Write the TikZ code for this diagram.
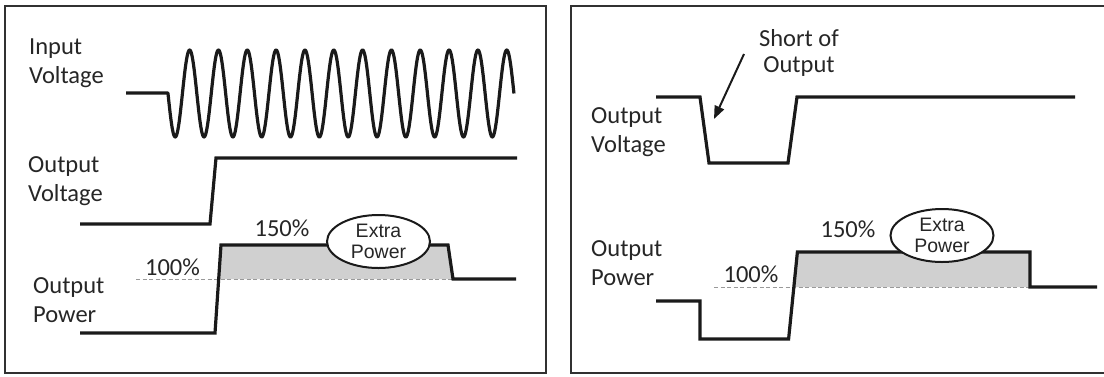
\documentclass[tikz,border=0pt]{standalone}
\usepackage{fontspec}
\setmainfont{Carlito}
\newfontfamily\arialf{Liberation Sans}
\usetikzlibrary{arrows.meta,shapes.geometric}
\definecolor{ink}{HTML}{1A1A1A}
\definecolor{txt}{HTML}{262626}
\definecolor{fillgray}{HTML}{D0D0D0}
\begin{document}
\begin{tikzpicture}[x=1pt,y=-1pt,
  frame/.style={draw=ink!90,line width=2.2pt},
  sig/.style={draw=ink,line width=3.2pt,line join=miter},
  lbl/.style={text=txt,font=\fontsize{24.5}{29}\selectfont,align=left,inner sep=0pt,anchor=base west},
  pct/.style={text=txt,font=\fontsize{24.5}{29}\selectfont,inner sep=0pt,anchor=base},
  ref/.style={draw=gray!80,line width=1pt,dash pattern=on 4pt off 2.5pt},
  bubble/.style={ellipse,draw=ink,line width=2pt,fill=white,inner sep=0pt,
    minimum width=103pt,minimum height=53pt,align=center,text=txt,
    font=\arialf\fontsize{19.5}{20.5}\selectfont},
  callout/.style={draw=ink,line width=2pt,-{Triangle[length=13pt,width=10pt]}}]
\useasboundingbox (0,0) rectangle (1104,376);
% frames
\draw[frame] (5,6) rectangle (546,373);
\draw[frame] (571,6) rectangle (1110,373);

% ---------- left panel ----------
\node[lbl] (inV) at (29,83) {Input\\Voltage};
\node[lbl] (outVL) at (28,201) {Output\\Voltage};
\node[lbl] (outPL) at (33,322) {Output\\Power};

\draw[sig,line join=round] (126,93) -- (168,93) -- plot[domain=0:4320,samples=600,smooth] ({168+\x/360*28.83},{93.5+43.5*sin(\x)});

\draw[sig] (80,224) -- (210,224) -- (216,158) -- (517,158);

\fill[fillgray] (218.7,279) -- (221,245) -- (448,245) -- (453,279) -- cycle;
\draw[ref] (136,279) -- (453,279);
\draw[sig] (80,333) -- (215,333) -- (221,245) -- (448,245) -- (453,279) -- (516,279);
\node[pct] (p150L) at (282,236) {150\%};
\node[pct] (p100L) at (172.5,275) {100\%};
\node[bubble] (extraL) at (378.5,241.5) {Extra\\Power};

% ---------- right panel ----------
\node[lbl] (outVR) at (591,152) {Output\\Voltage};
\node[lbl] (outPR) at (591,285) {Output\\Power};
\node[text=txt,font=\fontsize{24.5}{26}\selectfont,align=center,inner sep=0pt,anchor=base] (short) at (799,72) {Short of\\Output};
\coordinate (tip) at (714,119);
\draw[callout] (744,54) -- (tip);

\draw[sig] (656,97) -- (700,97) -- (709,163) -- (788,163) -- (797,97) -- (1075,97);

\fill[fillgray] (793.9,287) -- (797.4,252) -- (1030,252) -- (1030,287) -- cycle;
\draw[ref] (714,287) -- (1030,287);
\draw[sig] (656,301) -- (700,301) -- (700,339) -- (788.6,339) -- (797.4,252) -- (1030,252) -- (1030,287) -- (1097,287);
\node[pct] (p150R) at (848,237) {150\%};
\node[pct] (p100R) at (751,282) {100\%};
\node[bubble] (extraR) at (942,235.5) {Extra\\Power};
\end{tikzpicture}
\end{document}
